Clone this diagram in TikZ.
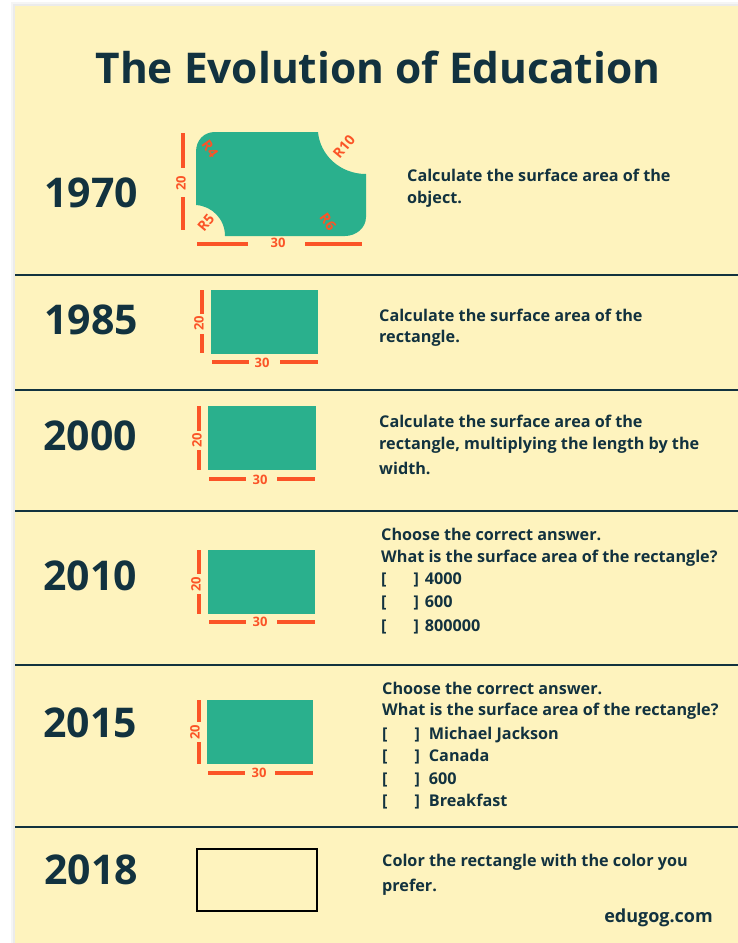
\documentclass[tikz,border=0pt]{standalone}
\usepackage{fontspec}
\setmainfont{Open Sans}
\definecolor{bgy}{HTML}{FEF3BE}
\definecolor{ink}{HTML}{12323F}
\definecolor{teal}{HTML}{2AB08D}
\definecolor{org}{HTML}{FB5427}
\newcommand{\opt}[1]{[\hspace{27pt}]\hspace{6pt}#1}
\newcommand{\optb}[1]{[\hspace{27pt}]\hspace{9pt}#1}
\tikzset{
 yearlabel/.style={anchor=west,inner sep=0,text=ink,font=\fontsize{41}{41}\selectfont\bfseries},
 body/.style={anchor=west,inner sep=0,text=ink,font=\fontsize{16.2}{16.2}\selectfont\bfseries},
 dimline/.style={draw=org,line width=3.4pt},
 dimtext/.style={inner sep=0,text=org,font=\fontsize{13}{13}\selectfont\bfseries},
 rtext/.style={inner sep=0,text=org,font=\fontsize{14}{14}\selectfont\bfseries},
 rule/.style={draw=ink,line width=2pt},
}
\begin{document}
\begin{tikzpicture}[x=1pt,y=-1pt]
\useasboundingbox (0,0) rectangle (738,943);
\fill[white] (0,0) rectangle (738,943);
\fill[black!4] (11,2) rectangle (738,943);
\fill[black!8] (13,4) rectangle (738,943);
\fill[bgy] (15,6) rectangle (738,943);
\node[anchor=center,inner sep=0,text=ink,font=\fontsize{42.4}{42.4}\selectfont\bfseries] (title) at (378,67) {The Evolution of Education};
% rules
\foreach \y in {275,390,511,665,827} \draw[rule] (15,\y) -- (738,\y);
% years
\node[yearlabel] (y1) at (44,193) {1970};
\node[yearlabel] (y2) at (44,320) {1985};
\node[yearlabel] (y3) at (43,436) {2000};
\node[yearlabel] (y4) at (43,576) {2010};
\node[yearlabel] (y5) at (43,723) {2015};
\node[yearlabel] (y6) at (44,870) {2018};
% 1970 part
\fill[teal] (196,152) .. controls (196,140) and (204,132) .. (215,132) -- (318,132)
  .. controls (320,155) and (340,174) .. (366,174) -- (366,217)
  .. controls (366,228) and (356,236) .. (345,236) -- (225,236)
  .. controls (225,219) and (212,206) .. (196,205) -- cycle;
\draw[dimline] (183,133) -- (183,168) (183,197) -- (183,230);
\draw[dimline] (197,244) -- (248,244) (305,244) -- (362,244);
\node[dimtext,rotate=90] (d1) at (181,183) {20};
\node[dimtext] (d2) at (278,243) {30};
\node[rtext,rotate=-55] (r1) at (210,149) {R4};
\node[rtext,rotate=50] (r2) at (344,147) {R10};
\node[rtext,rotate=50] (r3) at (206,223) {R5};
\node[rtext,rotate=-55] (r4) at (328,222) {R6};
% rectangles
\fill[teal] (211,290) rectangle (318,354);
\draw[dimline] (202,290) -- (202,314) (202,334) -- (202,353);
\draw[dimline] (212,362) -- (249,362) (280,362) -- (318,362);
\node[dimtext,rotate=90] (d3) at (199,323) {20};
\node[dimtext] (d4) at (262,363) {30};
\fill[teal] (208,406) rectangle (316,470);
\draw[dimline] (199,406) -- (199,431) (199,450) -- (199,470);
\draw[dimline] (209,479) -- (246,479) (277,479) -- (315,479);
\node[dimtext,rotate=90] (d5) at (197,440) {20};
\node[dimtext] (d6) at (260,480) {30};
\fill[teal] (208,550) rectangle (315,614);
\draw[dimline] (199,550) -- (199,574) (199,594) -- (199,614);
\draw[dimline] (209,622) -- (246,622) (277,622) -- (315,622);
\node[dimtext,rotate=90] (d7) at (196,584) {20};
\node[dimtext] (d8) at (260,622) {30};
\fill[teal] (207,700) rectangle (313,764);
\draw[dimline] (199,700) -- (199,722) (199,742) -- (199,764);
\draw[dimline] (208,773) -- (245,773) (275,773) -- (313,773);
\node[dimtext,rotate=90] (d9) at (195,732) {20};
\node[dimtext] (d10) at (259,773) {30};
\draw[black,line width=1.6pt] (197,849) rectangle (317,911);
% text
\node[body] (t1a) at (407,175) {Calculate the surface area of the};
\node[body] (t1b) at (407,199) {object.};
\node[body] (t2a) at (379,315) {Calculate the surface area of the};
\node[body] (t2b) at (379,338) {rectangle.};
\node[body] (t3a) at (379,421) {Calculate the surface area of the};
\node[body] (t3b) at (379,445) {rectangle, multiplying the length by the};
\node[body] (t3c) at (379,468) {width.};
\node[body] (t4a) at (381,534) {Choose the correct answer.};
\node[body] (t4b) at (381,558) {What is the surface area of the rectangle?};
\node[body] (t4c) at (381,580) {\opt{4000}};
\node[body] (t4d) at (381,603) {\opt{600}};
\node[body] (t4e) at (381,627) {\opt{800000}};
\node[body] (t5a) at (382,688) {Choose the correct answer.};
\node[body] (t5b) at (382,711) {What is the surface area of the rectangle?};
\node[body] (t5c) at (382,735) {\optb{Michael Jackson}};
\node[body] (t5d) at (382,757) {\optb{Canada}};
\node[body] (t5e) at (382,780) {\optb{600}};
\node[body] (t5f) at (382,802) {\optb{Breakfast}};
\node[body] (t6a) at (382,862) {Color the rectangle with the color you};
\node[body] (t6b) at (382,887) {prefer.};
\node[body,anchor=east,font=\fontsize{18}{18}\selectfont\bfseries] (src) at (713,918) {edugog.com};
\end{tikzpicture}
\end{document}
